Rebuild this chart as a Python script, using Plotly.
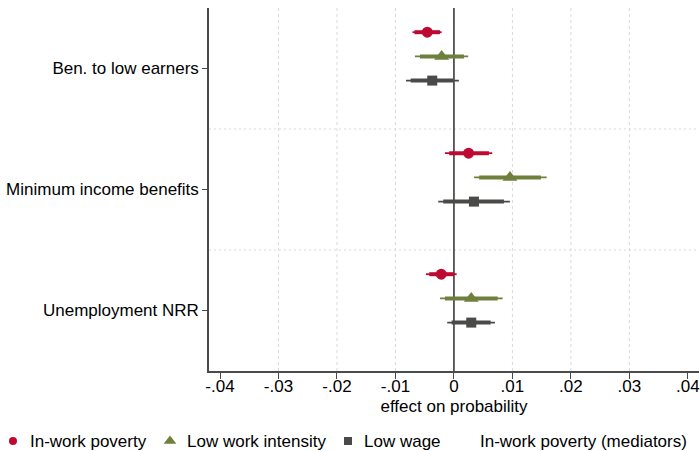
import plotly.graph_objects as go

# Policy variables (rows of the coefficient plot, top to bottom)
categories = ["Ben. to low earners", "Minimum income benefits", "Unemployment NRR"]

# Outcomes (series)
series_names = ["In-work poverty", "Low work intensity", "Low wage"]
mediator_title = "In-work poverty (mediators)"

# Point estimates per series, one per category
est_poverty = [-0.00456, 0.00251, -0.00217]
est_intensity = [-0.00210, 0.00957, 0.00296]
est_wage = [-0.00371, 0.00342, 0.00296]

# Inner (thick) confidence bands
ci_in_lo_poverty = [-0.00675, -0.00080, -0.00422]
ci_in_hi_poverty = [-0.00239, 0.00598, 0.00000]
ci_in_lo_intensity = [-0.00581, 0.00432, -0.00154]
ci_in_hi_intensity = [0.00171, 0.01487, 0.00747]
ci_in_lo_wage = [-0.00740, -0.00183, -0.00039]
ci_in_hi_wage = [-0.00012, 0.00855, 0.00627]

# Outer (thin) confidence bands
ci_out_lo_poverty = [-0.00709, -0.00154, -0.00479]
ci_out_hi_poverty = [-0.00210, 0.00655, 0.00046]
ci_out_lo_intensity = [-0.00667, 0.00342, -0.00239]
ci_out_hi_intensity = [0.00244, 0.01585, 0.00833]
ci_out_lo_wage = [-0.00820, -0.00268, -0.00115]
ci_out_hi_wage = [0.00085, 0.00957, 0.00701]

# X axis ticks
x_ticks = [-0.04, -0.03, -0.02, -0.01, 0, 0.01, 0.02, 0.03, 0.04]
x_tick_labels = ["-.04", "-.03", "-.02", "-.01", "0", ".01", ".02", ".03", ".04"]
x_grid = [-0.03, -0.02, -0.01, 0.01, 0.02, 0.03]

# Styling
colors = ["#BE0A33", "#6F7F3C", "#4A4A48"]
symbols = ["circle", "triangle-up", "square"]
msizes = [11, 13, 10]
legend_msizes = [8, 11, 8]
offsets = [-0.3, -0.1, 0.1]  # vertical slot of each series within a row

estimates = [est_poverty, est_intensity, est_wage]
inner = [(ci_in_lo_poverty, ci_in_hi_poverty),
         (ci_in_lo_intensity, ci_in_hi_intensity),
         (ci_in_lo_wage, ci_in_hi_wage)]
outer = [(ci_out_lo_poverty, ci_out_hi_poverty),
         (ci_out_lo_intensity, ci_out_hi_intensity),
         (ci_out_lo_wage, ci_out_hi_wage)]

FONT = "Liberation Sans, Arial, sans-serif"
FS = 17
W, H = 700, 451

# Plot frame in pixels (left, right, top, bottom)
PL, PR, PT, PB = 209, 699, 8, 371
# Legend row: symbol x positions, text x positions, centre y
LEG_SYM_X = [13, 170, 348]
LEG_TXT_X = [28, 185, 362, 478]
LEG_Y = 441

fig = go.Figure()


def segments(lo, hi, ys):
    xs, yy = [], []
    for a, b, y in zip(lo, hi, ys):
        xs += [a, b, None]
        yy += [y, y, None]
    return xs, yy


for k, name in enumerate(series_names):
    ys = [i + offsets[k] for i in range(len(categories))]
    xs, yy = segments(outer[k][0], outer[k][1], ys)
    fig.add_trace(go.Scatter(x=xs, y=yy, mode="lines", showlegend=False,
                             line=dict(color=colors[k], width=1.8), hoverinfo="skip"))
    xs, yy = segments(inner[k][0], inner[k][1], ys)
    fig.add_trace(go.Scatter(x=xs, y=yy, mode="lines", showlegend=False,
                             line=dict(color=colors[k], width=4), hoverinfo="skip"))
    fig.add_trace(go.Scatter(x=estimates[k], y=ys, mode="markers", name=name,
                             showlegend=False,
                             marker=dict(color=colors[k], symbol=symbols[k], size=msizes[k],
                                         opacity=1, line=dict(width=0))))

# Legend keys on a separate full-canvas axis pair measured in pixels
fig.add_trace(go.Scatter(x=LEG_SYM_X, y=[LEG_Y] * len(LEG_SYM_X), mode="markers",
                         xaxis="x2", yaxis="y2", showlegend=False, hoverinfo="skip",
                         marker=dict(color=colors, symbol=symbols, size=legend_msizes,
                                     opacity=1, line=dict(width=0))))

annotations = []
for txt, tx in zip(series_names + [mediator_title], LEG_TXT_X):
    annotations.append(dict(text=txt, x=tx / W, y=1 - LEG_Y / H, xref="paper", yref="paper",
                            xanchor="left", yanchor="middle", showarrow=False,
                            font=dict(family=FONT, size=FS, color="black")))

shapes = []
for g in x_grid:
    shapes.append(dict(type="line", xref="x", yref="y domain", x0=g, x1=g, y0=0, y1=1,
                       line=dict(color="#D9D9D9", width=1, dash="3px,3px"), layer="below"))
for b in [i + 0.5 for i in range(len(categories) - 1)]:
    shapes.append(dict(type="line", xref="x domain", yref="y", x0=0, x1=1, y0=b, y1=b,
                       line=dict(color="#D9D9D9", width=1.2, dash="2px,3px"), layer="below"))
shapes.append(dict(type="line", xref="x", yref="y domain", x0=0, x1=0, y0=0, y1=1,
                   line=dict(color="#3C3C3C", width=1.6), layer="below"))

fig.update_layout(
    width=W, height=H,
    margin=dict(l=0, r=0, t=0, b=0),
    paper_bgcolor="white", plot_bgcolor="rgba(0,0,0,0)",
    font=dict(family=FONT, size=FS, color="black"),
    shapes=shapes,
    annotations=annotations,
    showlegend=False,
    xaxis=dict(domain=[PL / W, PR / W], range=[-0.04188, 0.0419],
               tickvals=x_ticks, ticktext=x_tick_labels, automargin=False,
               showgrid=False, zeroline=False, showline=True, linecolor="#4A4A4A",
               linewidth=1.5, ticks="outside", ticklen=6, tickcolor="#4A4A4A",
               ticklabelstandoff=-7,
               tickfont=dict(size=FS, color="black"),
               title=dict(text="effect on probability", font=dict(size=FS, color="black"),
                          standoff=5)),
    yaxis=dict(domain=[1 - PB / H, 1 - PT / H], range=[2.5, -0.5], automargin=False,
               tickvals=list(range(len(categories))), ticktext=categories,
               showgrid=False, zeroline=False, showline=True, linecolor="#4A4A4A",
               linewidth=1.5, ticks="outside", ticklen=5, tickcolor="#4A4A4A",
               tickfont=dict(size=FS, color="black")),
    xaxis2=dict(domain=[0, 1], range=[0, W], visible=False, fixedrange=True, anchor="y2"),
    yaxis2=dict(domain=[0, 1], range=[H, 0], visible=False, fixedrange=True, anchor="x2"),
)

fig.write_html("out.html")
